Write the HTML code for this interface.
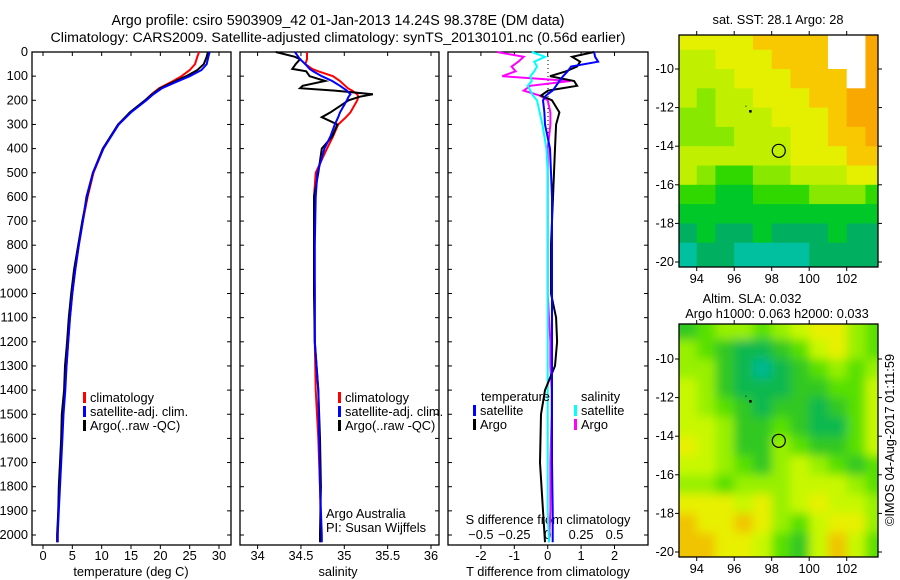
<!DOCTYPE html>
<html><head><meta charset="utf-8"><style>
body{margin:0;background:#fff;}
svg{display:block;font-family:"Liberation Sans",sans-serif;}
</style></head><body>
<svg id="fig" width="900" height="580" viewBox="0 0 900 580">
<text x="338" y="25" text-anchor="middle" font-size="14.3">Argo profile: csiro 5903909_42 01-Jan-2013 14.24S 98.378E (DM data)</text>
<text x="338" y="42" text-anchor="middle" font-size="14.2">Climatology: CARS2009. Satellite-adjusted climatology: synTS_20130101.nc (0.56d earlier)</text>
<text x="778" y="24" text-anchor="middle" font-size="12.8">sat. SST: 28.1 Argo: 28</text>
<text x="752" y="303" text-anchor="middle" font-size="12.8">Altim. SLA: 0.032</text>
<text x="777" y="318" text-anchor="middle" font-size="12.8">Argo h1000: 0.063 h2000: 0.033</text>
<text transform="translate(894,440) rotate(-90)" text-anchor="middle" font-size="12.8">©IMOS 04-Aug-2017 01:11:59</text>
<g id="plots"></g>
</svg>
<script>
// ---- temperature panel data ----
const tDepth=[0,20,50,75,100,125,150,175,200,250,300,400,500,600,700,800,900,1000,1100,1200,1300,1400,1500,1600,1700,1800,1900,2000,2030];
const tArgo=[28.1,27.9,27.4,26.3,24.4,22.2,20.0,18.6,17.4,14.8,12.8,10.2,8.5,7.5,6.7,6.0,5.3,4.8,4.4,4.1,3.75,3.6,3.2,3.1,2.9,2.7,2.6,2.4,2.4];
const tClim=[26.6,26.3,25.9,25.0,23.6,21.8,19.8,18.5,17.4,14.9,12.8,10.3,8.6,7.6,6.8,6.1,5.5,5.0,4.6,4.3,4.0,3.7,3.4,3.2,3.0,2.8,2.6,2.5,2.5];
const tSat=[28.4,28.2,27.9,27.0,25.0,22.6,20.3,18.8,17.6,15.0,12.9,10.3,8.5,7.4,6.8,6.1,5.5,5.0,4.6,4.3,4.0,3.8,3.5,3.3,3.1,2.9,2.7,2.5,2.5];
// ---- salinity panel data ----
const sDepth=[0,20,30,50,70,80,100,120,140,150,160,175,185,200,250,270,300,350,400,500,600,800,1000,1200,1400,1600,1800,2000,2030];
const sArgo=[34.21,34.43,34.49,34.44,34.40,34.56,34.60,34.78,34.52,34.49,34.89,35.33,35.18,35.05,34.84,34.74,34.92,34.86,34.74,34.70,34.65,34.65,34.65,34.66,34.70,34.72,34.73,34.72,34.72];
const sClim=[34.57,34.57,34.57,34.55,34.63,34.70,34.87,34.95,35.01,35.04,35.09,35.15,35.16,35.15,35.07,35.02,34.93,34.87,34.80,34.67,34.65,34.65,34.66,34.66,34.67,34.70,34.72,34.73,34.73];
const sSat=[34.43,34.47,34.49,34.55,34.60,34.64,34.74,34.86,34.95,34.99,35.03,35.07,35.05,35.03,34.95,34.93,34.89,34.84,34.77,34.69,34.67,34.66,34.66,34.66,34.70,34.71,34.72,34.74,34.74];
// ---- difference panel data ----
const dDepth=[0,20,40,60,80,100,120,140,160,180,200,250,300,400,500,600,800,1000,1100,1200,1300,1400,1500,1700,1900,2030];
const dArgoT=[1.39,0.73,0.97,0.88,0.55,0.07,0.79,0.88,0.01,-0.2,0.13,0.35,0.25,0.22,0.19,0.16,0.1,0.1,0.25,0.28,0.22,-0.08,-0.2,-0.23,-0.14,-0.08];
const dSatT=[1.39,1.42,1.51,0.7,0.6,0.46,0.35,0.25,0.15,-0.05,-0.14,-0.1,-0.08,0.07,0.1,0.13,0.13,0.13,0.13,0.13,0.13,0.13,0.13,0.13,0.15,0.15];
const dArgoS=[-0.38,-0.18,-0.22,-0.27,-0.24,-0.34,0.17,-0.13,-0.18,-0.06,0,0.02,0.02,0,0,0,0,0,0.01,0.02,0.02,0.03,0.03,0.02,0.02,0.01];
const dSatS=[-0.12,-0.02,-0.1,-0.08,-0.1,-0.13,-0.12,-0.15,-0.13,-0.11,-0.08,-0.06,-0.04,-0.01,0,0,0,0,0,0,0,0,0,0,0,0.01];
// ---- axis tick labels ----
const depthTicks=[0,100,200,300,400,500,600,700,800,900,1000,1100,1200,1300,1400,1500,1600,1700,1800,1900,2000];
const tempTicks=[0,5,10,15,20,25,30];
const salTicks=[34,34.5,35,35.5,36];
const dTTicks=[-2,-1,0,1,2];
const dSTicks=[-0.5,-0.25,0,0.25,0.5];
const lonTicks=[94,96,98,100,102];
const latTicks=[-10,-12,-14,-16,-18,-20];
// ---- map grids ----
const sstGrid=[
[7,7,7,7,8,8,8,8,-1,-1,9],[6,6,7,7,7,8,8,8,-1,-1,9],[6,6,6,7,7,7,8,8,8,-1,9],[6,5,6,6,7,7,7,8,8,9,9],
[5,5,6,6,6,7,7,7,8,9,9],[5,5,5,6,6,6,7,7,8,8,9],[6,6,6,6,6,6,7,7,7,8,8],[6,5,4,4,5,5,6,6,6,7,7],
[4,4,3,3,4,4,4,5,5,5,4],[3,3,3,3,3,3,3,3,3,3,3],[2,3,2,2,3,2,2,2,3,2,2],[1,2,2,1,1,1,1,2,2,2,2]];
const slaGrid=[
[3,4,5,5,4,5,6,7,7,5,4],[5,4,3,2,2,3,4,6,7,5,4],[5,5,3,2,1,2,3,4,5,4,5],[6,5,3,2,2,2,3,3,4,4,6],
[6,5,4,3,2,3,3,2,3,4,6],[6,6,5,3,3,4,3,2,2,4,6],[7,6,5,3,3,5,4,3,3,4,6],[6,6,5,4,3,5,6,5,4,3,4],
[5,5,4,5,5,5,6,6,6,5,4],[7,7,7,6,7,5,6,7,6,6,5],[8,7,7,8,7,5,4,6,7,7,5],[8,8,7,7,6,4,3,6,8,6,4]];
const argoPos=[98.378,-14.24];
const sstPal=['#00d8d8','#00c0a0','#00b060','#00c828','#30d800','#88e800','#c0f000','#e4f000','#f8c800','#f8a800'];
const slaPal=['#00c0a0','#00b890','#10b850','#30c820','#58e000','#98f000','#c8f800','#e8f000','#f0c400'];

const NS='http://www.w3.org/2000/svg';
const root=document.getElementById('plots');
function mk(tag,attrs,parent){const e=document.createElementNS(NS,tag);for(const k in attrs)e.setAttribute(k,attrs[k]);(parent||root).appendChild(e);return e;}
function txt(x,y,s,anchor,size,parent){const t=mk('text',{x:x,y:y,'text-anchor':anchor||'middle','font-size':size||12.8},parent);t.textContent=s;return t;}

const pTop=52,pBot=545;
const yD=d=>pTop+d*0.2415;
function panel(x0,x1,name){
  const g=mk('g',{});
  
  
  const r=mk('rect',{x:x0,y:pTop,width:x1-x0,height:pBot-pTop,fill:'none',stroke:'#000','stroke-width':1.3},g);
  
  
  depthTicks.forEach(d=>{const y=yD(d);mk('line',{x1:x0,x2:x0+4,y1:y,y2:y,stroke:'#000'},g);mk('line',{x1:x1-4,x2:x1,y1:y,y2:y,stroke:'#000'},g);});
  return g;
}
function line(g,xs,ds,xf,color,name,w){
  const p=mk('polyline',{points:xs.map((v,i)=>xf(v).toFixed(1)+','+yD(ds[i]).toFixed(1)).join(' '),fill:'none',stroke:color,'stroke-width':w||2},g);
  
  
}
function legend(g,x,y,items){
  items.forEach((it,i)=>{mk('rect',{x:x,y:y+i*14-10,width:3,height:11,fill:it[0]},g);txt(x+7,y+i*14,it[1],'start',12.8,g);});
}
const yl=mk('g',{});


depthTicks.forEach(d=>txt(28,yD(d)+4,String(d),'end',12.8,yl));

// Temperature panel
const xT=v=>43+v*5.867;
const gT=panel(32,231,'temperature-panel');
tempTicks.forEach(v=>{mk('line',{x1:xT(v),x2:xT(v),y1:pBot,y2:pBot+4,stroke:'#000'},gT);mk('line',{x1:xT(v),x2:xT(v),y1:pTop,y2:pTop+4,stroke:'#000'},gT);txt(xT(v),pBot+15,String(v),'middle',12.8,gT);});
txt(131,576,'temperature (deg C)','middle',12.8,gT);
line(gT,tClim,tDepth,xT,'#f00','temp-climatology-line');
line(gT,tArgo,tDepth,xT,'#000','temp-argo-line');
line(gT,tSat,tDepth,xT,'#00f','temp-satellite-line');
legend(gT,83,402,[['#f00','climatology'],['#00f','satellite-adj. clim.'],['#000','Argo(..raw -QC)']]);

// Salinity panel
const xS=v=>257.6+(v-34)*86.7;
const gS=panel(240,439,'salinity-panel');
salTicks.forEach(v=>{mk('line',{x1:xS(v),x2:xS(v),y1:pBot,y2:pBot+4,stroke:'#000'},gS);mk('line',{x1:xS(v),x2:xS(v),y1:pTop,y2:pTop+4,stroke:'#000'},gS);txt(xS(v),pBot+15,String(v),'middle',12.8,gS);});
txt(338,576,'salinity','middle',12.8,gS);
line(gS,sClim,sDepth,xS,'#f00','sal-climatology-line');
line(gS,sArgo,sDepth,xS,'#000','sal-argo-line');
line(gS,sSat,sDepth,xS,'#00f','sal-satellite-line');
legend(gS,338,402,[['#f00','climatology'],['#00f','satellite-adj. clim.'],['#000','Argo(..raw -QC)']]);
txt(326,518,'Argo Australia','start',12.8,gS);
txt(326,532,'PI: Susan Wijffels','start',12.8,gS);

// Difference panel
const xDT=v=>547.7+v*33.4, xDS=v=>547.7+v*133.6;
const gD=panel(448,648,'difference-panel');
dTTicks.forEach(v=>{mk('line',{x1:xDT(v),x2:xDT(v),y1:pBot,y2:pBot+4,stroke:'#000'},gD);mk('line',{x1:xDT(v),x2:xDT(v),y1:pTop,y2:pTop+4,stroke:'#000'},gD);txt(xDT(v),pBot+15,String(v),'middle',12.8,gD);});
dSTicks.forEach(v=>{txt(xDS(v),539,String(v).replace('-','\u2212'),'middle',12.8,gD);});
txt(548,524,'S difference from climatology','middle',12.8,gD);
txt(548,576,'T difference from climatology','middle',12.8,gD);
mk('line',{x1:548,x2:548,y1:pTop,y2:yD(800),stroke:'#000','stroke-dasharray':'1,3'},gD);
line(gD,dArgoS,dDepth,xDS,'#f0f','sdiff-argo-line');
line(gD,dSatS,dDepth,xDS,'#0ff','sdiff-satellite-line');
line(gD,dArgoT,dDepth,xDT,'#000','tdiff-argo-line');
line(gD,dSatT,dDepth,xDT,'#00f','tdiff-satellite-line');
txt(481,401,'temperature','start',12.8,gD);
legend(gD,473,415,[['#00f','satellite'],['#000','Argo']]);
txt(581,401,'salinity','start',12.8,gD);
legend(gD,574,415,[['#0ff','satellite'],['#f0f','Argo']]);

// Maps
const defs=mk('defs',{});const flt=mk('filter',{id:'bl',x:'-10%',y:'-10%',width:'120%',height:'120%'},defs);mk('feGaussianBlur',{stdDeviation:5},flt);
function map(y0,y1,latY10,latY20,grid,pal,name,blur){
  const x0=679,x1=878;
  const lx=v=>696.7+(v-94)*18.75;
  const sc=(latY20-latY10)/10;
  const ly=v=>latY10+(-10-v)*sc;
  const g=mk('g',{});
  
  
  const cid='clip'+name;
  const cp=mk('clipPath',{id:cid},defs);mk('rect',{x:x0,y:y0,width:x1-x0,height:y1-y0},cp);
  const cells=mk('g',{'clip-path':'url(#'+cid+')'},g);
  const inner=mk('g',blur?{filter:'url(#bl)'}:{},cells);
  grid.forEach((row,r)=>row.forEach((c,ci)=>{
    const lon=93+ci, lat=-8-r;
    let xa=lx(lon),xb=lx(lon+1),ya=ly(lat),yb=ly(lat-1);
    if(ci===0)xa-=20; if(ci===row.length-1)xb+=20; if(r===0)ya-=20; if(r===grid.length-1)yb+=20;
    const cell=mk('rect',{x:xa,y:ya,width:xb-xa+0.5,height:yb-ya+0.5,fill:c<0?'#fff':pal[c]},inner);
    
    
  }));
  mk('rect',{x:x0,y:y0,width:x1-x0,height:y1-y0,fill:'none',stroke:'#000','stroke-width':1.3},g);
  lonTicks.forEach(v=>{mk('line',{x1:lx(v),x2:lx(v),y1:y0-4,y2:y0,stroke:'#000'},g);mk('line',{x1:lx(v),x2:lx(v),y1:y1,y2:y1+4,stroke:'#000'},g);txt(lx(v),y1+16,String(v),'middle',12.8,g);});
  latTicks.forEach(v=>{mk('line',{x1:x0-4,x2:x0,y1:ly(v),y2:ly(v),stroke:'#000'},g);mk('line',{x1:x1,x2:x1+4,y1:ly(v),y2:ly(v),stroke:'#000'},g);txt(674,ly(v)+4,String(v),'end',12.8,g);});
  const c=mk('circle',{cx:lx(argoPos[0]),cy:ly(argoPos[1]),r:6.5,fill:'none',stroke:'#000','stroke-width':1.2},g);
  
  
  mk('rect',{x:lx(96.85)-1,y:ly(-12.18)-1,width:2.5,height:2.5,fill:'#000'},g);
  mk('rect',{x:lx(96.6),y:ly(-11.9),width:1,height:1,fill:'#000'},g);
}
map(35,267,69,262,sstGrid,sstPal,'sst-map',false);
map(324,557,359,552,slaGrid,slaPal,'sla-map',true);
</script>
</body></html>
